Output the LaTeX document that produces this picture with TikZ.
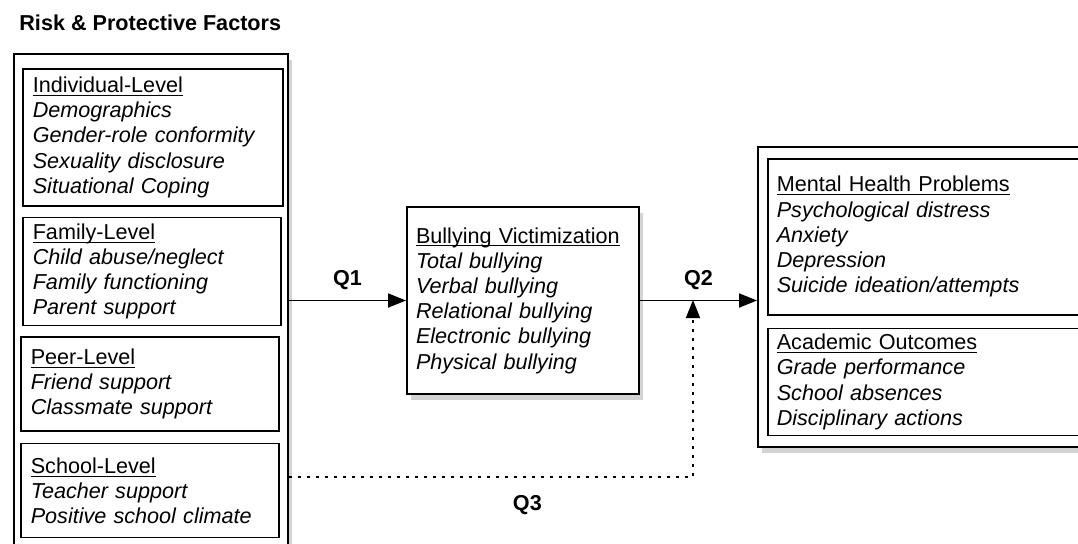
\documentclass[tikz,border=0pt]{standalone}
\usepackage{fontspec}
\setmainfont{Liberation Sans}
\usetikzlibrary{positioning,shadows,arrows.meta}

\newcommand{\levelhead}[1]{\underline{\raisebox{0pt}[\height][0pt]{#1}}}

\tikzset{
  panel/.style={draw, line width=1pt, fill=white, anchor=north west,
    drop shadow={opacity=0.35, shadow xshift=2pt, shadow yshift=-3pt}},
  factor/.style={draw, line width=0.8pt, fill=white, align=left,
    inner xsep=5pt, inner ysep=0pt, anchor=north west},
  link/.style={line width=0.9pt, -{Triangle[length=9pt,width=7pt]}},
  qlabel/.style={font=\fontsize{10.8}{12.6}\selectfont\bfseries},
}

\begin{document}
\begin{tikzpicture}[x=0.5pt, y=-0.5pt, font=\fontsize{10.8}{12.6}\selectfont]
  \useasboundingbox (0,0) rectangle (1078,543);
  \clip (0,0) rectangle (1078,543);

  \node[qlabel, anchor=west, inner sep=0pt] (title) at (19,23) {Risk \& Protective Factors};

  % risk and protective factors
  \node[panel, minimum width=137pt, minimum height=258pt] (riskbox) at (13,53) {};
  \node[factor, text width=120pt, minimum height=68.5pt] (indiv) at (22,68)
    {\levelhead{Individual-Level}\\ \textit{Demographics}\\ \textit{Gender-role conformity}\\
     \textit{Sexuality disclosure}\\ \textit{Situational Coping}};
  \node[factor, text width=119pt, minimum height=54pt, below=5pt of indiv.south west, anchor=north west] (family)
    {\levelhead{Family-Level}\\ \textit{Child abuse/neglect}\\ \textit{Family functioning}\\ \textit{Parent support}};
  \node[factor, text width=119pt, minimum height=47pt, below=5pt of family.south west, anchor=north west, xshift=-1pt] (peer)
    {\levelhead{Peer-Level}\\ \textit{Friend support}\\ \textit{Classmate support}};
  \node[factor, text width=119pt, minimum height=47pt, below=5.5pt of peer.south west, anchor=north west] (school)
    {\levelhead{School-Level}\\ \textit{Teacher support}\\ \textit{Positive school climate}};

  % victimization
  \node[panel, align=left, inner xsep=4.5pt, inner ysep=0pt, text width=107pt, minimum height=93.5pt] (bully) at (406,206)
    {\levelhead{Bullying Victimization}\\ \textit{Total bullying}\\ \textit{Verbal bullying}\\
     \textit{Relational bullying}\\ \textit{Electronic bullying}\\ \textit{Physical bullying}};

  % outcomes
  \node[panel, minimum width=176.5pt, minimum height=150pt] (outcomebox) at (757,146) {};
  \node[factor, inner xsep=4.5pt, text width=157.5pt, minimum height=78pt] (mental) at (767,158)
    {\levelhead{Mental Health Problems}\\ \textit{Psychological distress}\\ \textit{Anxiety}\\
     \textit{Depression}\\ \textit{Suicide ideation/attempts}};
  \node[factor, inner xsep=4.5pt, text width=157.5pt, minimum height=53.5pt, below=6pt of mental.south west, anchor=north west] (academic)
    {\levelhead{Academic Outcomes}\\ \textit{Grade performance}\\ \textit{School absences}\\ \textit{Disciplinary actions}};

  \draw[link] (riskbox.east |- bully.west) -- node[qlabel, above=1.5pt] (q1) {Q1} (bully.west);
  \draw[link] (bully.east) -- node[qlabel, above=1.5pt] (q2) {Q2} (outcomebox.west |- bully.east);

  \coordinate (q3turn) at (693,477);
  \coordinate (q3end) at (693,300);
  \draw[link, dash pattern=on 1.5pt off 3pt] (riskbox.east |- q3turn) -- node[qlabel, pos=0.59, below=5.5pt] (q3) {Q3} (q3turn) -- (q3end);
\end{tikzpicture}
\end{document}
